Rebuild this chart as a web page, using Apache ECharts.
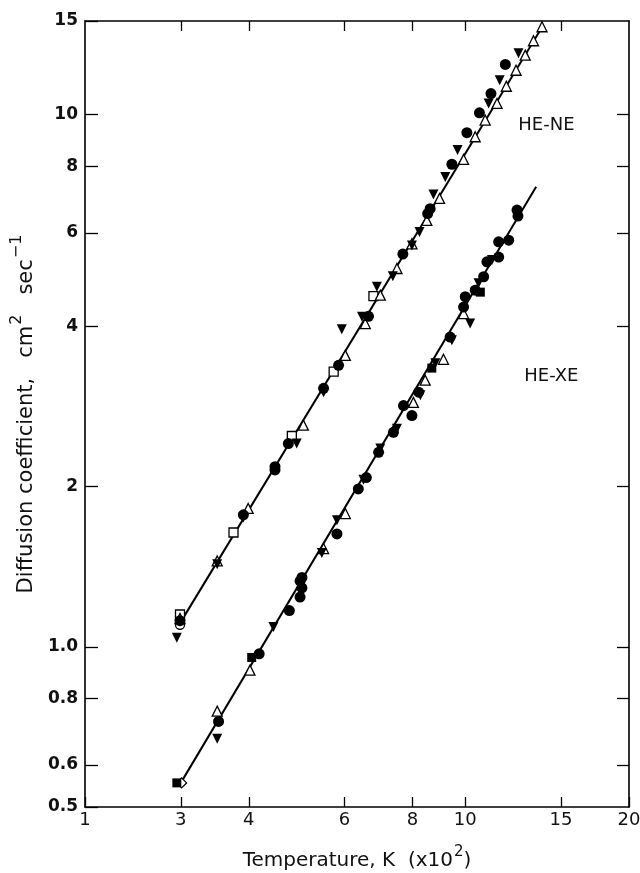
<!DOCTYPE html>
<html>
<head>
<meta charset="utf-8">
<script src="https://cdn.jsdelivr.net/npm/echarts@6/dist/echarts.min.js"></script>
<style>
html,body{margin:0;padding:0;background:#fff;}
#chart{width:640px;height:873px;}
</style>
</head>
<body>
<div id="chart"></div>
<script>
// Axis ticks
const xTickValues = [2, 3, 4, 6, 8, 10, 15, 20];
const xTickLabels = ["1", "3", "4", "6", "8", "10", "15", "20"];
const yTickValues = [0.5, 0.6, 0.8, 1.0, 2, 4, 6, 8, 10, 15];
const yTickLabels = ["0.5", "0.6", "0.8", "1.0", "2", "4", "6", "8", "10", "15"];

// HE-NE data [T (x100 K), D (cm2/s)]
const heNeFilledCircle = [[11.85,12.43],[11.15,10.96],[10.62,10.08],[10.07,9.25],[9.45,8.07],[8.62,6.66],[8.53,6.52],[7.68,5.47],[6.64,4.18],[5.85,3.38],[5.49,3.06],[4.73,2.41],[4.47,2.18],[4.47,2.15],[3.91,1.77],[2.99,1.12]];
const heNeFilledDown = [[12.53,13.04],[11.57,11.61],[11.04,10.50],[9.68,8.58],[9.19,7.64],[8.74,7.08],[8.24,6.02],[7.98,5.68],[7.36,4.97],[6.88,4.75],[6.46,4.17],[5.93,3.95],[5.49,3.01],[4.90,2.41],[3.91,1.75],[3.50,1.43],[2.95,1.04]];
const heNeOpenUp = [[13.84,14.63],[13.35,13.77],[12.89,12.94],[12.40,12.12],[11.90,11.31],[11.44,10.50],[10.88,9.77],[10.43,9.09],[9.93,8.24],[8.97,6.96],[8.50,6.33],[7.98,5.72],[7.49,5.14],[6.98,4.58],[6.55,4.05],[6.02,3.53],[5.04,2.61],[3.99,1.82],[3.50,1.45],[2.99,1.13]];
const heNeOpenSquare = [[6.78,4.56],[5.73,3.29],[4.80,2.49],[3.75,1.64],[2.99,1.15]];
const heNeOpenCircle = [[2.99,1.10]];
const heNeFit = [[3.0,1.114],[13.84,14.6]];

// HE-XE data
const heXeFilledCircle = [[12.45,6.62],[12.50,6.45],[12.02,5.81],[11.52,5.77],[11.52,5.40],[10.96,5.29],[10.81,4.96],[10.43,4.68],[10.0,4.55],[9.93,4.35],[9.38,3.82],[8.21,3.01],[7.70,2.84],[7.98,2.72],[7.38,2.53],[6.93,2.32],[6.58,2.08],[6.36,1.98],[5.81,1.63],[5.01,1.35],[4.97,1.33],[5.01,1.29],[4.97,1.24],[4.75,1.17],[4.18,0.97],[3.52,0.724]];
const heXeFilledDown = [[11.20,5.33],[10.58,4.82],[10.21,4.05],[9.45,3.77],[8.81,3.41],[8.27,2.97],[7.49,2.57],[6.98,2.36],[6.50,2.06],[5.81,1.73],[5.45,1.50],[4.44,1.09],[3.50,0.672]];
const heXeOpenUp = [[9.93,4.23],[9.12,3.47],[8.44,3.17],[8.03,2.88],[6.02,1.78],[5.49,1.53],[4.02,0.904],[3.50,0.757]];
const heXeFilledSquare = [[10.66,4.64],[8.68,3.34],[4.05,0.955],[2.95,0.555]];
const heXeOpenDiamond = [[3.01,0.555]];
const heXeFit = [[3.0,0.555],[13.5,7.32]];

// Curve labels [T, D, text]
const curveLabels = [[14.1, 9.56, "HE-NE"], [14.4, 3.22, "HE-XE"]];

const FONT = "DejaVu Sans, Liberation Sans, sans-serif";

function pickLabel(v, values, labels) {
  let best = 0, bd = Infinity;
  for (let i = 0; i < values.length; i++) {
    const d = Math.abs(Math.log(v) - Math.log(values[i]));
    if (d < bd) { bd = d; best = i; }
  }
  return bd < 0.01 ? labels[best] : "";
}

function scatter(name, data, symbol, filled, rotate, size) {
  return {
    name, type: "scatter", data, symbol, symbolSize: size, symbolRotate: rotate || 0,
    xAxisIndex: 0, yAxisIndex: 0, z: 5,
    itemStyle: filled ? { color: "#000", opacity: 1 } : { color: "#fff", borderColor: "#000", borderWidth: 1.3, opacity: 1 },
    emphasis: { disabled: true }
  };
}
function fit(name, data) {
  return {
    name, type: "line", data, symbol: "none", z: 3,
    lineStyle: { color: "#000", width: 2 }, emphasis: { disabled: true }
  };
}

const chart = echarts.init(document.getElementById("chart"), null, { renderer: "canvas" });

const tickStyle = { color: "#000", width: 1.3 };
const option = {
  animation: false,
  backgroundColor: "#fff",
  grid: { left: 85, right: 11, top: 21, bottom: 66, containLabel: false, outerBoundsMode: "none" },
  xAxis: [
    {
      type: "log", logBase: 10, min: 2, max: 20, position: "bottom",
      name: "{a|Temperature, K  (x10}{s|2}{a|)}",
      nameLocation: "middle", nameGap: 38,
      nameTextStyle: { rich: {
        a: { fontFamily: FONT, fontSize: 20, color: "#111", lineHeight: 26, verticalAlign: "bottom" },
        s: { fontFamily: FONT, fontSize: 15, color: "#111", lineHeight: 26, verticalAlign: "top", padding: [0,0,0,1] }
      } },
      axisLine: { lineStyle: { color: "#000", width: 1.6 } },
      axisTick: { inside: true, length: 10, lineStyle: tickStyle, customValues: xTickValues },
      axisLabel: { customValues: xTickValues, fontFamily: FONT, fontSize: 18, color: "#111", margin: 4,
        formatter: v => pickLabel(v, xTickValues, xTickLabels) },
      splitLine: { show: false }, minorTick: { show: false }
    },
    {
      type: "log", logBase: 10, min: 2, max: 20, position: "top",
      axisLine: { lineStyle: { color: "#000", width: 1.6 } },
      axisTick: { inside: true, length: 10, lineStyle: tickStyle, customValues: xTickValues.slice(1, -1) },
      axisLabel: { show: false }, splitLine: { show: false }
    }
  ],
  yAxis: [
    {
      type: "log", logBase: 10, min: 0.5, max: 15, position: "left",
      name: "{a|Diffusion coefficient,   cm}{s|2}{a|   sec}{s|\u22121}",
      nameLocation: "middle", nameGap: 47, nameRotate: 90,
      nameTextStyle: { rich: {
        a: { fontFamily: FONT, fontSize: 21, color: "#111", lineHeight: 28, verticalAlign: "bottom" },
        s: { fontFamily: FONT, fontSize: 16, color: "#111", lineHeight: 28, verticalAlign: "top", padding: [0,0,0,1] }
      } },
      axisLine: { lineStyle: { color: "#000", width: 1.6 } },
      axisTick: { inside: true, length: 13, lineStyle: tickStyle, customValues: yTickValues },
      axisLabel: { customValues: yTickValues, fontFamily: FONT, fontSize: 17, fontWeight: "bold", color: "#111", margin: 7,
        formatter: v => pickLabel(v, yTickValues, yTickLabels) },
      splitLine: { show: false }, minorTick: { show: false }
    },
    {
      type: "log", logBase: 10, min: 0.5, max: 15, position: "right",
      axisLine: { lineStyle: { color: "#000", width: 1.6 } },
      axisTick: { inside: true, length: 12, lineStyle: tickStyle, customValues: yTickValues.slice(1, -1) },
      axisLabel: { show: false }, splitLine: { show: false }
    }
  ],
  series: [
    fit("HE-NE fit", heNeFit),
    fit("HE-XE fit", heXeFit),
    scatter("HE-NE open square", heNeOpenSquare, "rect", false, 0, 9),
    scatter("HE-NE open circle", heNeOpenCircle, "circle", false, 0, 9),
    scatter("HE-NE open triangle", heNeOpenUp, "triangle", false, 0, 10),
    scatter("HE-NE filled circle", heNeFilledCircle, "circle", true, 0, 11),
    scatter("HE-NE filled down triangle", heNeFilledDown, "triangle", true, 180, 10),
    scatter("HE-XE open diamond", heXeOpenDiamond, "diamond", false, 0, 10),
    scatter("HE-XE open triangle", heXeOpenUp, "triangle", false, 0, 10),
    scatter("HE-XE filled square", heXeFilledSquare, "rect", true, 0, 9),
    scatter("HE-XE filled circle", heXeFilledCircle, "circle", true, 0, 11),
    scatter("HE-XE filled down triangle", heXeFilledDown, "triangle", true, 180, 10),
    {
      name: "curve labels", type: "scatter", symbolSize: 0, z: 6,
      itemStyle: { opacity: 1 },
      data: curveLabels.map(d => ({ value: [d[0], d[1]], name: d[2] })),
      label: { show: true, position: "inside", formatter: p => p.name,
        fontFamily: FONT, fontSize: 18, color: "#111" },
      emphasis: { disabled: true }
    }
  ]
};
chart.setOption(option);
</script>
</body>
</html>
